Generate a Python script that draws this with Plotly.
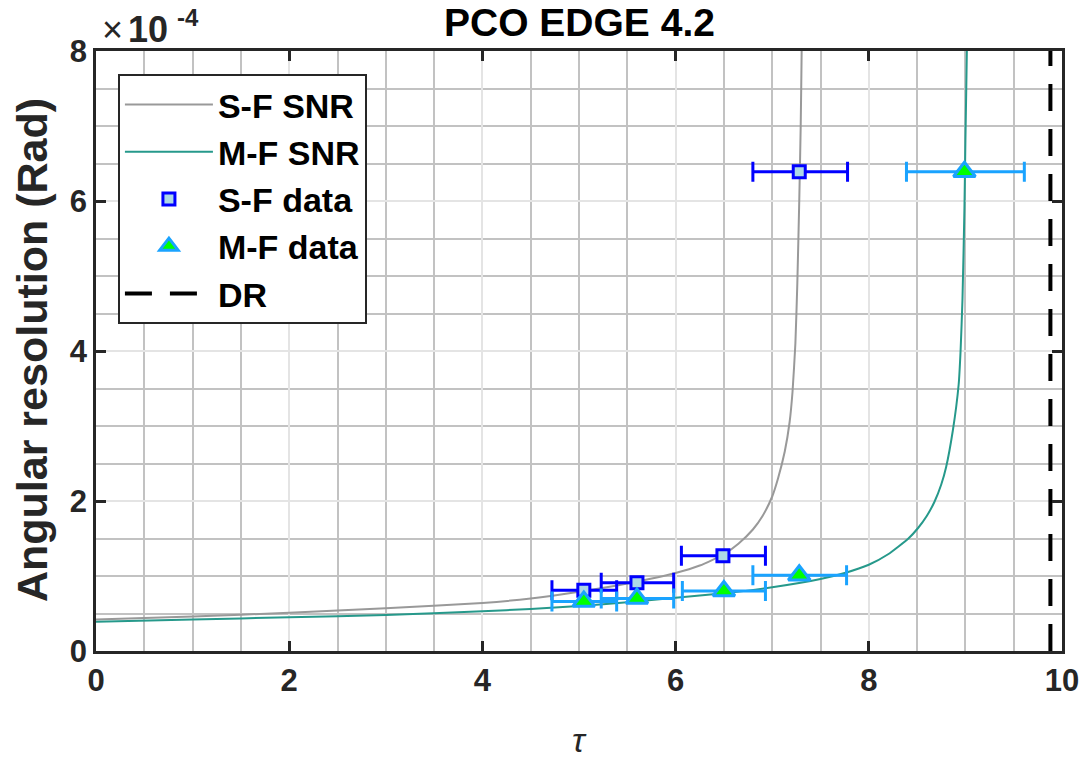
import plotly.graph_objects as go

# ---- data (y values in units of 1e-4 rad) ----
sf_curve_x = [0, 1, 2, 3, 4, 4.5, 5.0, 5.5, 6.0, 6.25, 6.5, 6.65, 6.8, 6.9, 7.0,
              7.06, 7.13, 7.18, 7.21, 7.24, 7.26, 7.28, 7.295, 7.305, 7.31]
sf_curve_y = [0.42, 0.46, 0.51, 0.57, 0.64, 0.70, 0.79, 0.90, 1.04, 1.14, 1.29, 1.43,
              1.62, 1.80, 2.06, 2.30, 2.66, 3.05, 3.45, 4.10, 4.90, 6.00, 7.00, 8.00, 9.00]

mf_curve_x = [0, 1, 2, 3, 4, 4.5, 5.0, 5.5, 6.0, 6.5, 7.0, 7.5, 7.75, 8.0, 8.2, 8.41,
              8.51, 8.6, 8.68, 8.75, 8.80, 8.87, 8.93, 8.95, 8.97, 8.99, 9.0, 9.015, 9.02]
mf_curve_y = [0.39, 0.42, 0.45, 0.48, 0.53, 0.56, 0.60, 0.65, 0.71, 0.77, 0.85, 0.96,
              1.04, 1.15, 1.29, 1.50, 1.64, 1.80, 1.99, 2.22, 2.45, 2.94, 3.55, 4.00,
              4.70, 5.90, 6.80, 8.00, 9.00]

sf_data_x = [5.05, 5.60, 6.49, 7.28]
sf_data_y = [0.81, 0.91, 1.27, 6.39]
sf_err_lo = [4.72, 5.23, 6.06, 6.80]
sf_err_hi = [5.39, 5.98, 6.93, 7.78]

mf_data_x = [5.05, 5.60, 6.50, 7.28, 8.99]
mf_data_y = [0.66, 0.70, 0.80, 1.01, 6.39]
mf_err_lo = [4.72, 5.23, 6.07, 6.80, 8.39]
mf_err_hi = [5.39, 5.98, 6.93, 7.77, 9.61]

dr_x = 9.88
y_span = [0, 8]

x_ticks = [0, 2, 4, 6, 8, 10]
y_ticks = [0, 2, 4, 6, 8]

FONT = "Liberation Sans, Arial, sans-serif"
TXT = "#262626"
GRAY = "#999999"
TEAL = "#26998b"
BLUE = "#0000ff"
CYAN = "#1aa3ff"

fig = go.Figure()

fig.add_trace(go.Scatter(x=sf_curve_x, y=sf_curve_y, mode="lines", name="S-F SNR",
                         line=dict(color=GRAY, width=2, shape="spline", smoothing=0.5)))
fig.add_trace(go.Scatter(x=mf_curve_x, y=mf_curve_y, mode="lines", name="M-F SNR",
                         line=dict(color=TEAL, width=2, shape="spline", smoothing=0.5)))

fig.add_trace(go.Scatter(
    x=sf_data_x, y=sf_data_y, mode="markers", name="S-F data",
    marker=dict(symbol="square", size=12, color="#add8e6", line=dict(color=BLUE, width=3)),
    error_x=dict(type="data", symmetric=False,
                 array=[h - x for h, x in zip(sf_err_hi, sf_data_x)],
                 arrayminus=[x - l for l, x in zip(sf_err_lo, sf_data_x)],
                 color=BLUE, thickness=3, width=10)))

fig.add_trace(go.Scatter(
    x=mf_data_x, y=mf_data_y, mode="markers", name="M-F data",
    marker=dict(symbol="triangle-up", size=19, color="#00ff00", line=dict(color=CYAN, width=3)),
    error_x=dict(type="data", symmetric=False,
                 array=[h - x for h, x in zip(mf_err_hi, mf_data_x)],
                 arrayminus=[x - l for l, x in zip(mf_err_lo, mf_data_x)],
                 color=CYAN, thickness=3, width=10)))

fig.add_trace(go.Scatter(x=[dr_x, dr_x], y=y_span, mode="lines", name="DR",
                         line=dict(color="black", width=4, dash="27px,18px")))

axis_common = dict(
    showline=True, linecolor=TXT, linewidth=2.5, mirror="ticks",
    ticks="inside", ticklen=10, tickwidth=2.5, tickcolor=TXT,
    tickfont=dict(family=FONT, size=31, color=TXT, weight="bold"),
    showgrid=True, gridcolor="#e4e4e4", gridwidth=2,
    zeroline=False,
)

fig.update_xaxes(range=[0, 10], tickvals=x_ticks,
                 minor=dict(dtick=0.5, showgrid=True, gridcolor="#c2c2c2", gridwidth=2, ticks=""),
                 **axis_common)
fig.update_yaxes(range=[0, 8], tickvals=y_ticks,
                 minor=dict(dtick=0.5, showgrid=True, gridcolor="#c2c2c2", gridwidth=2, ticks=""),
                 **axis_common)

fig.update_layout(
    width=1091, height=770,
    margin=dict(l=96, r=27, t=51, b=119),
    paper_bgcolor="white", plot_bgcolor="white",
    showlegend=True,
    legend=dict(x=0.0227, y=0.9617, xanchor="left", yanchor="top",
                bgcolor="white", bordercolor=TXT, borderwidth=2,
                font=dict(family=FONT, size=34, color="black", weight="bold"),
                itemwidth=88, tracegroupgap=0),
    annotations=[
        dict(text="PCO EDGE 4.2", x=0.5, y=1.048, xref="paper", yref="paper",
             showarrow=False, xanchor="center", yanchor="middle",
             font=dict(family=FONT, size=39, color="black", weight="bold")),
        dict(text="Angular resolution (Rad)", x=-0.066, y=0.502, xref="paper", yref="paper",
             showarrow=False, textangle=-90, xanchor="center", yanchor="middle",
             font=dict(family=FONT, size=43, color=TXT, weight="bold")),
        dict(text="<i>τ</i>", x=0.5, y=-0.148, xref="paper", yref="paper",
             showarrow=False, xanchor="center", yanchor="middle",
             font=dict(family=FONT, size=34, color=TXT)),
        dict(text="×", x=0.004, y=1.036, xref="paper", yref="paper",
             showarrow=False, xanchor="left", yanchor="middle",
             font=dict(family=FONT, size=36, color=TXT)),
        dict(text="10", x=0.031, y=1.036, xref="paper", yref="paper",
             showarrow=False, xanchor="left", yanchor="middle",
             font=dict(family=FONT, size=36, color=TXT, weight="bold")),
        dict(text="-4", x=0.082, y=1.056, xref="paper", yref="paper",
             showarrow=False, xanchor="left", yanchor="middle",
             font=dict(family=FONT, size=24, color=TXT, weight="bold")),
    ],
)

fig.write_html("out.html")
